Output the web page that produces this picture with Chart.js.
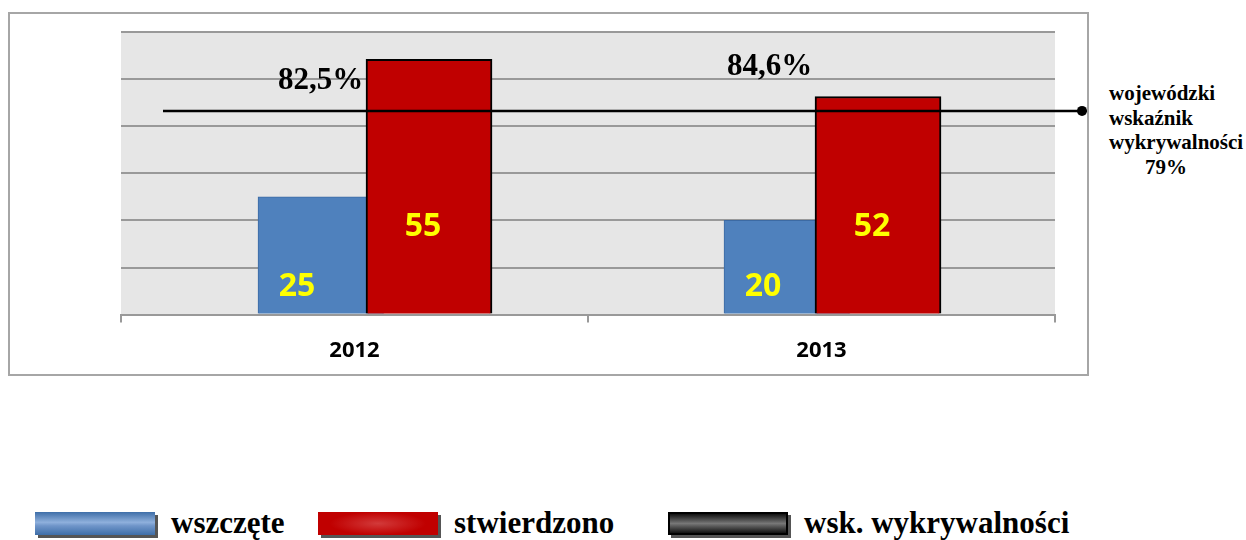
<!DOCTYPE html>
<html>
<head>
<meta charset="utf-8">
<script src="https://cdn.jsdelivr.net/npm/chart.js@4.4.0/dist/chart.umd.min.js"></script>
<style>
  body { margin: 0; background: #fff; width: 1246px; height: 540px; position: relative; overflow: hidden; }
  #box { position: absolute; left: 8px; top: 12px; width: 1081px; height: 364px; border: 2px solid #a6a6a6; box-sizing: border-box; }
  #wrap { position: absolute; left: 0; top: 0; width: 1077px; height: 375px; }
  #side { position: absolute; left: 1109px; top: 81px; font: bold 21px "Liberation Serif", serif; line-height: 24.5px; color: #000; }
  .leg { position: absolute; top: 506px; height: 34px; display: flex; align-items: center; font: bold 31px "Liberation Serif", serif; color: #000; }
  .sw { width: 120px; height: 23px; margin-right: 16px; box-shadow: 3px 3px 0 #555; }
</style>
</head>
<body>
<div id="box"><div id="wrap"><canvas id="c"></canvas></div></div>
<div id="side">wojewódzki<br>wskaźnik<br>wykrywalności<br><span style="padding-left:36px">79%</span></div>
<div class="leg" style="left:35px"><div class="sw" style="background:linear-gradient(#3e6ea8,#8fb0dc 45%,#6f95c9 60%,#3e6ea8)"></div>wszczęte</div>
<div class="leg" style="left:318px"><div class="sw" style="background:radial-gradient(ellipse 40% 50% at 50% 50%,#d23a3a,#c00000)"></div>stwierdzono</div>
<div class="leg" style="left:668px"><div class="sw" style="background:linear-gradient(#111,#777 50%,#111);border:2px solid #000;box-sizing:border-box"></div>wsk. wykrywalności</div>
<script>
// dane
const years = ['2012', '2013'];
const wszczete = [25, 20];
const stwierdzono = [54.2, 46.3];          // wysokości słupków
const wszczeteLabels = ['25', '20'];
const stwierdzonoLabels = ['55', '52'];
const wskaznikYears = [82.5, 84.6];          // % nad słupkami
const wskaznikYearsLabels = ['82,5%', '84,6%'];
const wojewodzki = 79;                       // wojewódzki wskaźnik wykrywalności

// tło obszaru wykresu
const plotBg = {
  id: 'plotBg',
  beforeDraw(chart) {
    const a = chart.chartArea, ctx = chart.ctx;
    ctx.save();
    ctx.fillStyle = '#e6e6e6';
    ctx.fillRect(a.left, a.top, a.right - a.left, a.bottom - a.top);
    ctx.restore();
  }
};

// etykiety liczbowe i procentowe + kropka na końcu linii
const labelsPlugin = {
  id: 'labelsPlugin',
  afterDatasetsDraw(chart) {
    const ctx = chart.ctx;
    const base = chart.scales.y.getPixelForValue(0);
    ctx.save();
    const pts = chart.getDatasetMeta(2).data;
    const end = pts[pts.length - 1];
    ctx.fillStyle = '#000';
    ctx.beginPath();
    ctx.arc(end.x, end.y, 5, 0, Math.PI * 2);
    ctx.fill();

    ctx.textAlign = 'center';
    ctx.textBaseline = 'middle';
    ctx.fillStyle = '#ffff00';
    ctx.font = 'bold 32px "Open Sans", sans-serif';
    chart.getDatasetMeta(0).data.forEach((bar, i) => {
      ctx.fillText(wszczeteLabels[i], bar.x - 24, base - 28);
    });
    chart.getDatasetMeta(1).data.forEach((bar, i) => {
      ctx.fillText(stwierdzonoLabels[i], bar.x - 6, base - 88);
    });
    ctx.fillStyle = '#000';
    ctx.font = 'bold 31px "Liberation Serif", serif';
    const dx = [-34, -52], dy = [-30, -44];
    const yl = chart.scales.yPct.getPixelForValue(wojewodzki);
    wskaznikYears.forEach((v, i) => {
      const x = chart.scales.x.getPixelForValue(i);
      ctx.fillText(wskaznikYearsLabels[i], x + dx[i], yl + dy[i]);
    });
    ctx.restore();
  }
};

new Chart(document.getElementById('c'), {
  type: 'bar',
  data: {
    labels: years,
    datasets: [
      {
        label: 'wszczęte', data: wszczete.map((v, i) => ({ x: i, y: v })),
        xAxisID: 'xBlue', grouped: false, barThickness: 126,
        backgroundColor: '#4f81bd', borderColor: '#3c6aa3', borderWidth: 1, order: 2
      },
      {
        label: 'stwierdzono', data: stwierdzono.map((v, i) => ({ x: i, y: v })),
        xAxisID: 'xRed', grouped: false, barThickness: 126,
        backgroundColor: '#c00000', borderColor: '#000', borderWidth: 2, order: 1
      },
      {
        type: 'line', label: 'wsk. wykrywalności',
        data: [{ x: 0, y: wojewodzki }, { x: 1, y: wojewodzki }],
        xAxisID: 'xLine', yAxisID: 'yPct',
        borderColor: '#000', borderWidth: 2.5, pointRadius: 0,
        clip: false, order: 0
      }
    ]
  },
  options: {
    responsive: true,
    maintainAspectRatio: false,
    animation: false,
    layout: { padding: { left: 111, right: 32, top: 18, bottom: 10 } },
    plugins: { legend: { display: false }, tooltip: { enabled: false } },
    scales: {
      x: {
        type: 'category',
        offset: true,
        grid: { offset: true, drawOnChartArea: false, drawTicks: true, tickLength: 8, color: '#999', lineWidth: 2 },
        border: { display: true, color: '#999', width: 2 },
        ticks: { color: '#000', padding: 15, font: { family: '"Open Sans", sans-serif', size: 22, weight: 'bold' } }
      },
      y: {
        min: 0, max: 60,
        ticks: { display: false, stepSize: 10 },
        grid: { color: '#999', lineWidth: 2, drawTicks: false },
        border: { display: false }
      },
      xBlue: { type: 'linear', display: false, offset: false, min: -0.4292, max: 1.5751 },
      xRed: { type: 'linear', display: false, offset: false, min: -0.6860, max: 1.3942 },
      xLine: { type: 'linear', display: false, offset: false, min: -0.0457, max: 0.9706 },
      yPct: { display: false, min: 0, max: 109.6 }
    }
  },
  plugins: [plotBg, labelsPlugin]
});
</script>
</body>
</html>
